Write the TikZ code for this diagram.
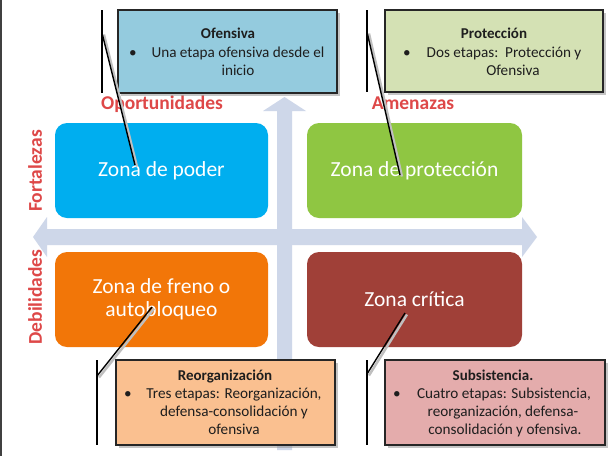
\documentclass[tikz,border=0pt]{standalone}
\usepackage{fontspec}
\setmainfont{Carlito}
\usetikzlibrary{shadows}
\definecolor{qblue}{RGB}{0,174,239}
\definecolor{qgreen}{RGB}{143,198,66}
\definecolor{qorange}{RGB}{242,118,8}
\definecolor{qbrown}{RGB}{160,64,56}
\definecolor{arrowc}{RGB}{206,215,233}
\definecolor{fofe}{RGB}{148,203,222}
\definecolor{fpro}{RGB}{212,225,180}
\definecolor{freo}{RGB}{250,192,144}
\definecolor{fsub}{RGB}{228,172,172}
\definecolor{lab}{RGB}{222,72,72}
\definecolor{txt}{RGB}{30,30,30}
\begin{document}
\begin{tikzpicture}[x=1pt,y=-1pt,
  quad/.style={rounded corners=12pt, minimum height=95pt, text=white,
    font=\fontsize{21.5}{23}\selectfont, align=center, inner sep=0pt},
  callbox/.style={draw=black!85, line width=1.6pt, inner sep=0pt,
    drop shadow={shadow xshift=3pt, shadow yshift=-3pt, fill=black!45, opacity=0.5}},
  ctitle/.style={font=\bfseries\fontsize{15}{17}\selectfont, text=txt, inner sep=0pt, anchor=base},
  cline/.style={font=\fontsize{15.2}{17}\selectfont, text=txt, inner sep=0pt, anchor=base},
  axislabel/.style={font=\bfseries\fontsize{19.5}{22}\selectfont, text=lab, inner sep=0pt},
  accentbar/.style={draw=black, line width=1.5pt},
  pointer/.style={draw=black, line width=1.4pt,
    preaction={draw=black!25, line width=2.4pt, transform canvas={xshift=2pt,yshift=-1.5pt}}}
]
\useasboundingbox (0,0) rectangle (610,456);
\fill[white] (0,0) rectangle (610,456);
\draw[black!75, line width=1.5pt] (0.75,0) -- (0.75,456);

% cross arrows
\fill[arrowc] (33,237) -- (47,217) -- (47,229) -- (522,229) -- (522,217) -- (537,237)
  -- (522,257) -- (522,245) -- (47,245) -- (47,257) -- cycle;
\fill[arrowc] (284.5,97) -- (306,111) -- (292,111) -- (292,450) -- (277,450)
  -- (277,111) -- (263,111) -- cycle;

% quadrants
\node[quad, fill=qblue, minimum width=213pt] (poder) at (161.5,170.5) {Zona de poder};
\node[quad, fill=qgreen, minimum width=215pt] (prot) at (414.5,170.5) {Zona de protección};
\node[quad, fill=qorange, minimum width=213pt] (freno) at (161.5,299.5) {Zona de freno o\\autobloqueo};
\node[quad, fill=qbrown, minimum width=215pt] (critica) at (414.5,299.5) {Zona crítica};

% axis labels
\node[axislabel, anchor=base] (oport) at (162,109) {Oportunidades};
\node[axislabel, anchor=base] (amen) at (413,109) {Amenazas};
\node[axislabel, rotate=90] (fort) at (35,171) {Fortalezas};
\node[axislabel, rotate=90] (debil) at (35,297) {Debilidades};

% callout boxes
\node[callbox, fill=fofe, minimum width=219pt, minimum height=83pt] (ofe) at (227.5,51.5) {};
\node[ctitle] (ofeT) at (228,38) {Ofensiva};
\node[cline] (ofeB) at (133,57) {\textbullet};
\node[cline] (ofeL1) at (238,57) {Una etapa ofensiva desde el};
\node[cline] (ofeL2) at (238,75) {inicio};

\node[callbox, fill=fpro, minimum width=218pt, minimum height=82pt] (pro) at (494,51) {};
\node[ctitle] (proT) at (494,38) {Protección};
\node[cline] (proB) at (407,57) {\textbullet};
\node[cline] (proL1) at (504,57) {Dos etapas:\ \ Protección y};
\node[cline] (proL2) at (513,75) {Ofensiva};

\node[callbox, fill=freo, minimum width=219pt, minimum height=85pt] (reo) at (225.5,402.5) {};
\node[ctitle] (reoT) at (225,380) {Reorganización};
\node[cline] (reoB) at (128,398) {\textbullet};
\node[cline] (reoL1) at (234,398) {Tres etapas: Reorganización,};
\node[cline] (reoL2) at (234,416) {defensa-consolidación y};
\node[cline] (reoL3) at (234,434) {ofensiva};

\node[callbox, fill=fsub, minimum width=220pt, minimum height=85pt] (sub) at (495,402.5) {};
\node[ctitle] (subT) at (493,380) {Subsistencia.};
\node[cline] (subB) at (397,398) {\textbullet};
\node[cline] (subL1) at (504,398) {Cuatro etapas: Subsistencia,};
\node[cline] (subL2) at (503,416) {reorganización, defensa-};
\node[cline] (subL3) at (505,434) {consolidación y ofensiva.};

% accent bars and pointers
\coordinate (ofeBarT) at (102,10);
\coordinate (ofeBarB) at (102,93);
\coordinate (ofeA) at (102,33);
\coordinate (ofeP) at (135,165);
\coordinate (proBarT) at (367,10);
\coordinate (proBarB) at (367,92);
\coordinate (proA) at (367,32);
\coordinate (proP) at (400,175);
\coordinate (reoBarT) at (97,360);
\coordinate (reoBarB) at (97,445);
\coordinate (reoA) at (97,376);
\coordinate (reoP) at (152,307);
\coordinate (subBarT) at (367,360);
\coordinate (subBarB) at (367,445);
\coordinate (subA) at (367,374);
\coordinate (subP) at (405,313);

\draw[accentbar] (ofeBarT) -- (ofeBarB);
\draw[accentbar] (proBarT) -- (proBarB);
\draw[accentbar] (reoBarT) -- (reoBarB);
\draw[accentbar] (subBarT) -- (subBarB);
\draw[pointer] (ofeA) -- (ofeP);
\draw[pointer] (proA) -- (proP);
\draw[pointer] (reoA) -- (reoP);
\draw[pointer] (subA) -- (subP);
\end{tikzpicture}
\end{document}
